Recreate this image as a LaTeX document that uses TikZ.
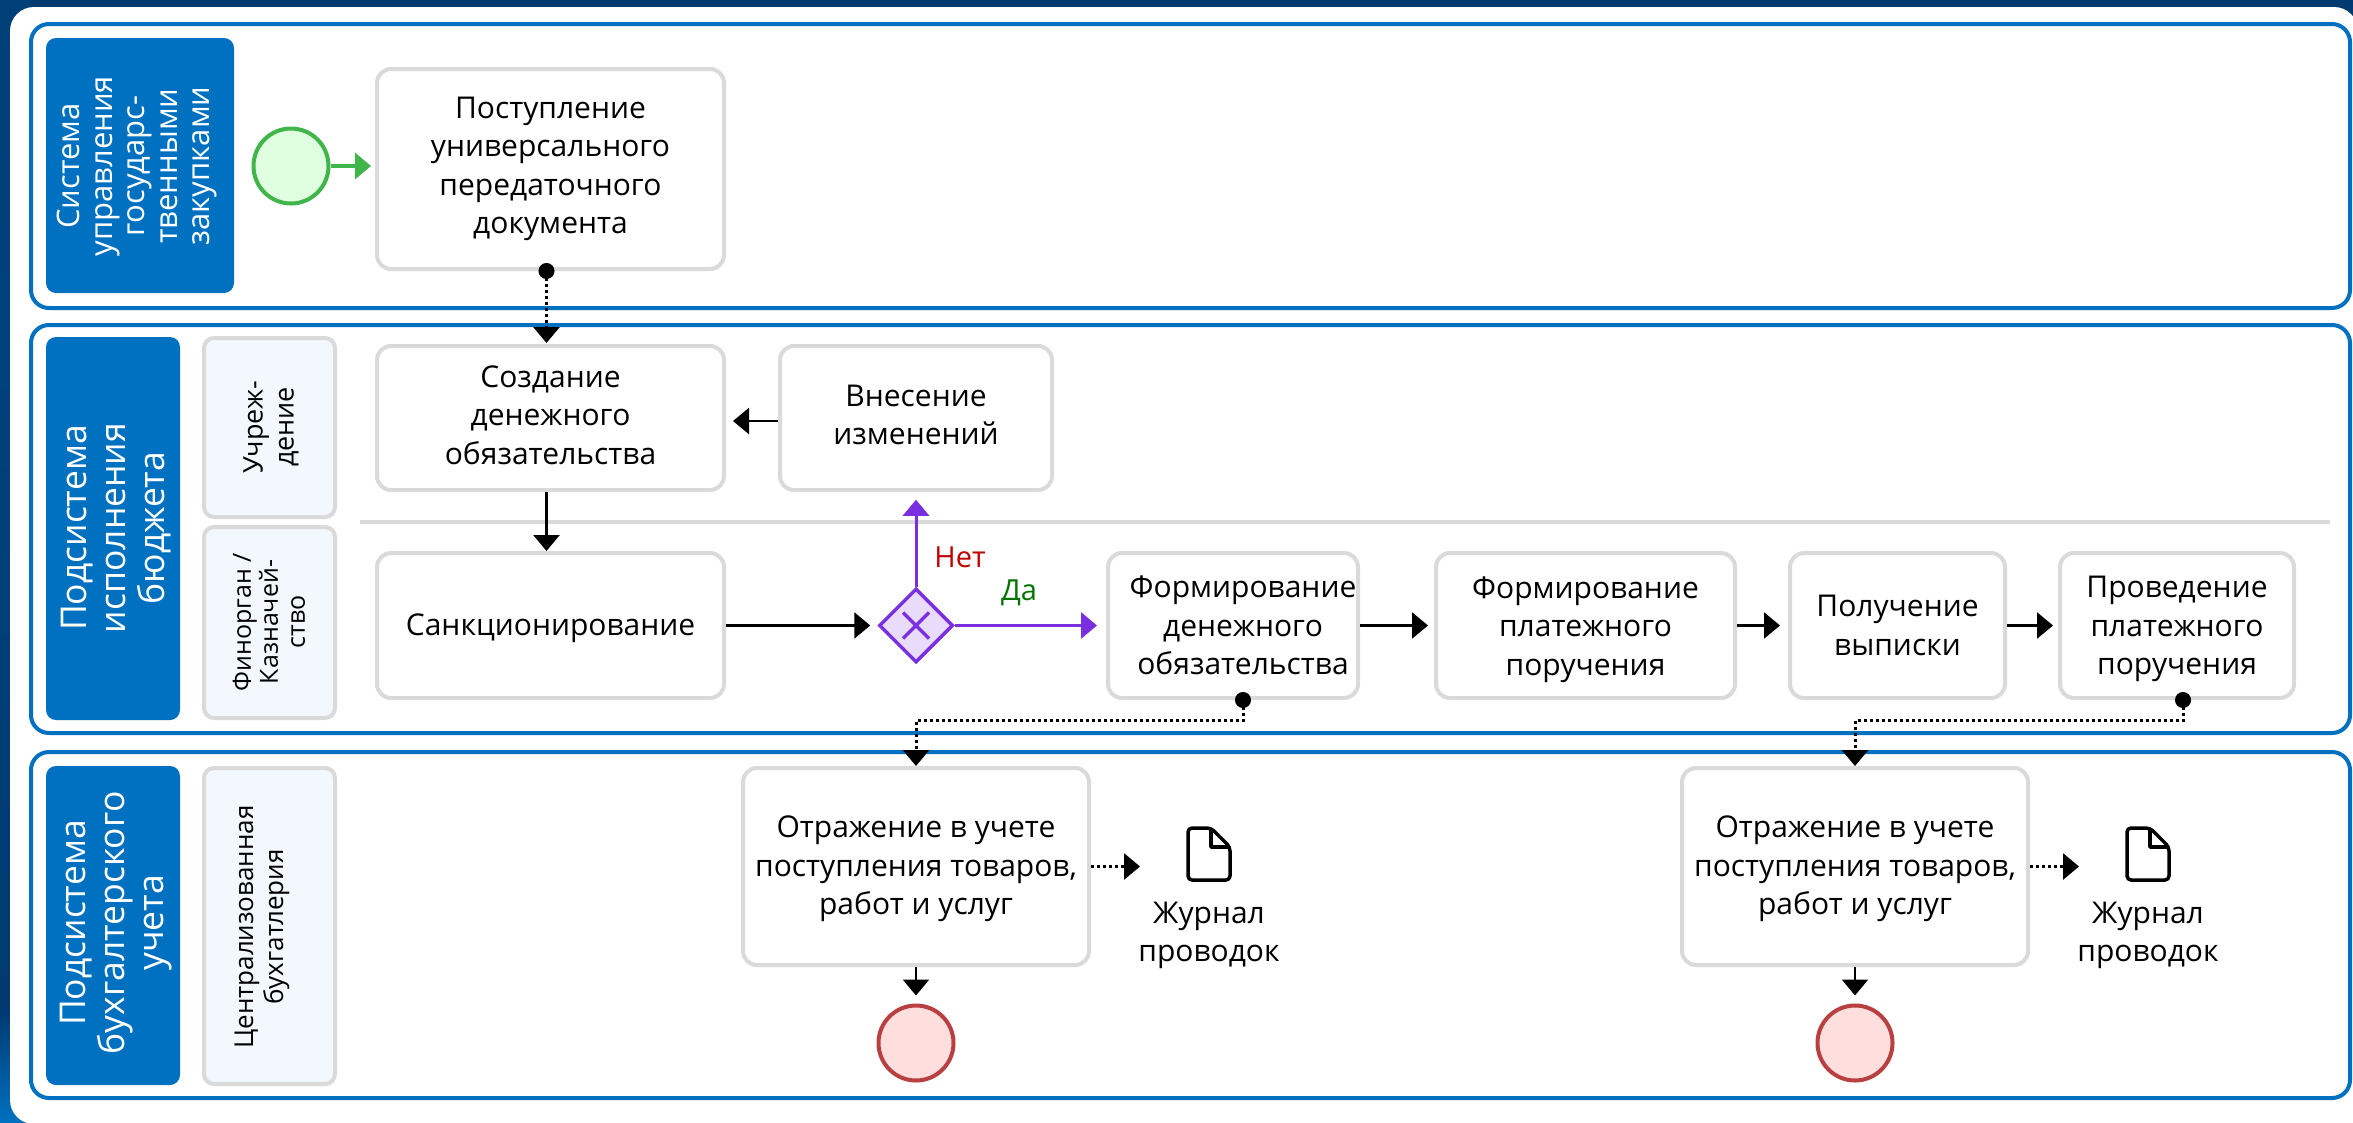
\documentclass[tikz,border=0pt]{standalone}
\usepackage{fontspec}
\setmainfont{Open Sans}
\usetikzlibrary{arrows.meta,shapes.geometric,calc}
\definecolor{lanecol}{HTML}{0070C0}
\definecolor{graycol}{HTML}{DADADA}
\definecolor{violetcol}{HTML}{7A2FE0}
\definecolor{navycol}{HTML}{003A70}
\definecolor{rolecol}{HTML}{F2F8FE}
\definecolor{startcol}{HTML}{3FB54A}
\definecolor{endcol}{HTML}{B94040}
\pgfdeclareverticalshading{stripshade}{100bp}{
  color(0bp)=(navycol); color(10bp)=(navycol!70!lanecol); color(20bp)=(lanecol!75!navycol); color(23bp)=(navycol!60!lanecol);
  color(25bp)=(lanecol); color(30bp)=(navycol); color(60bp)=(navycol!85!lanecol); color(100bp)=(navycol)}
\newcommand{\pushdown}[1]{\rule{0pt}{#1}}
\newcommand{\pushup}[1]{\rule[-#1]{0pt}{#1}}
\tikzset{
  lane/.style={draw=lanecol, line width=4pt, rounded corners=18pt, fill=white},
  title/.style={fill=lanecol, rounded corners=10pt, text=white, inner sep=0pt},
  titletext/.style={text=white, rotate=90, align=center, inner sep=0pt},
  role/.style={draw=graycol, line width=4pt, fill=rolecol, rounded corners=10pt},
  roletext/.style={rotate=90, align=center, inner sep=0pt, font=\fontsize{25}{27}\selectfont},
  task/.style={draw=graycol, line width=4pt, fill=white, rounded corners=14pt, inner sep=0pt, align=center, font=\fontsize{30}{38.5}\selectfont},
  flow/.style={line width=2.5pt, -{Triangle[length=16pt,width=26pt]}},
  note/.style={line width=3pt, dash pattern=on 3pt off 3pt, {Circle[length=16pt,width=16pt]}-{Triangle[length=16pt,width=26pt]}},
  notearrow/.style={line width=3pt, dash pattern=on 3pt off 3pt, -{Triangle[length=16pt,width=26pt]}},
  docpage/.pic={\draw[line width=3.5pt, rounded corners=4pt, line join=round] (-21,-26) -- (2,-26) -- (21,-7) -- (21,26) -- (-21,26) -- cycle;
    \draw[line width=3.5pt, line join=round] (2,-26) -- (2,-7) -- (21,-7);}
}
\begin{document}
\begin{tikzpicture}[x=1pt,y=-1pt]
\useasboundingbox (0,0) rectangle (2353,1122);
\shade[shading=stripshade] (0,0) rectangle (40,1122);
\fill[navycol] (30,0) rectangle (2353,60);
\fill[white, rounded corners=24pt] (10,7) -- (2358,7) -- (2358,1124) -- (10,1124) -- cycle;

% lanes
\draw[lane] (31,24) rectangle (2350,308);
\draw[lane] (31,325) rectangle (2350,733);
\draw[lane] (31,752) rectangle (2350,1098);

\fill[title] (46,38) rectangle (234,293);
\fill[title] (46,337) rectangle (180,720);
\fill[title] (46,766) rectangle (180,1085);
\node[titletext, font=\fontsize{31}{32.5}\selectfont] (sys) at (137,166) {Система\\управления\\государс-\\твенными\\закупками};
\node[titletext, font=\fontsize{35.5}{39}\selectfont] (pod) at (116,528) {Подсистема\\исполнения\\бюджета};
\node[titletext, font=\fontsize{35.5}{39}\selectfont] (buh) at (116,923) {Подсистема\\бухгалтерского\\учета};

\draw[role] (204,338) rectangle (335,517);
\draw[role] (204,527) rectangle (335,718);
\draw[role] (204,768) rectangle (335,1084);
\node[roletext, font=\fontsize{27}{31}\selectfont] (uch) at (271,427) {Учреж-\\дение};
\node[roletext] (fin) at (269,622) {Финорган /\\Казначей-\\ство};
\node[roletext, font=\fontsize{26}{30}\selectfont] (cen) at (262,927) {Централизованная\\бухгатлерия};

\draw[graycol, line width=3.5pt] (360,522) -- (2330,522);

% tasks
\node[task, minimum width=347pt, minimum height=200pt] (post) at (550.5,169) {Поступление\\универсального\\передаточного\\документа};
\node[task, minimum width=347pt, minimum height=144pt] (soz) at (550.5,418) {Создание\\денежного\\обязательства\pushup{6pt}};
\node[task, minimum width=272pt, minimum height=144pt] (vnes) at (916,418) {Внесение\\изменений\pushup{6pt}};
\node[task, minimum width=347pt, minimum height=145pt] (sank) at (550.5,625.5) {\pushdown{28pt}Санкционирование};
\node[task, minimum width=250pt, minimum height=145pt] (fdo) at (1233,625.5) {\hspace*{20pt}Формирование\\\hspace*{20pt}денежного\\\hspace*{20pt}обязательства};
\node[task, minimum width=299pt, minimum height=145pt] (fpp) at (1585.5,625.5) {\pushdown{30pt}Формирование\\платежного\\поручения};
\node[task, minimum width=215pt, minimum height=145pt] (vyp) at (1897.5,625.5) {Получение\\выписки};
\node[task, minimum width=234pt, minimum height=145pt] (prov) at (2177,625.5) {\pushdown{29pt}Проведение\\платежного\\поручения};
\node[task, minimum width=346pt, minimum height=197pt] (otr1) at (916,866.5) {\pushdown{27pt}Отражение в учете\\поступления товаров,\\работ и услуг};
\node[task, minimum width=346pt, minimum height=197pt] (otr2) at (1855,866.5) {\pushdown{27pt}Отражение в учете\\поступления товаров,\\работ и услуг};

% events and gateway
\node[circle, draw=startcol, line width=4pt, fill=green!12, minimum size=75pt, inner sep=0pt] (start) at (291,166) {};
\node[diamond, draw=violetcol, line width=3.5pt, fill=violetcol!17, minimum width=74pt, minimum height=74pt, inner sep=0pt] (gate) at (916,625.5) {};
\draw[violetcol, line width=3.5pt] (903,612.5) -- (929,638.5) (903,638.5) -- (929,612.5);
\node[circle, draw=endcol, line width=4pt, fill=red!13, minimum size=75pt, inner sep=0pt] (end1) at (916,1043) {};
\node[circle, draw=endcol, line width=4pt, fill=red!13, minimum size=75pt, inner sep=0pt] (end2) at (1855,1043) {};

\pic at (1209,854) {docpage};
\pic at (2148,854) {docpage};
\node[align=center, inner sep=0pt, font=\fontsize{30}{38}\selectfont] (jur1) at (1209,935) {Журнал\\проводок};
\node[align=center, inner sep=0pt, font=\fontsize{30}{38}\selectfont] (jur2) at (2148,935) {Журнал\\проводок};
\coordinate (doc1) at (1140,866.5);
\coordinate (doc2) at (2079,866.5);

% connectors
\draw[flow, startcol, line width=3.5pt, shorten >=4pt] (start) -- (start -| post.west);
\draw[note] ([xshift=-4pt,yshift=8pt]post.south) -- ([xshift=-4pt,yshift=1pt]soz.north);
\draw[flow] ([xshift=-4pt]soz.south) -- ([xshift=-4pt]sank.north);
\draw[flow, shorten >=7pt] ([yshift=-3pt]vnes.west) -- ([yshift=-3pt]soz.east);
\draw[flow, shorten >=7pt] (sank) -- (gate);
\draw[flow, violetcol, line width=3pt, shorten >=9pt] (gate.east) -- (fdo);
\draw[flow, violetcol, line width=3pt] (gate.north) -- ++(0,-87);
\draw[flow, shorten >=6pt] (fdo) -- (fpp);
\draw[flow, shorten >=8pt] (fpp) -- (vyp);
\draw[flow, shorten >=5pt] (vyp) -- (prov);
\node[text=red!75!black, inner sep=0pt, font=\fontsize{29}{30}\selectfont] (net) at (960,557) {Нет};
\node[text=green!45!black, inner sep=0pt, font=\fontsize{29}{30}\selectfont] (da) at (1019,593) {Да};
\draw[note] ([xshift=10pt,yshift=8pt]fdo.south) -- ++(0,28) -| (otr1.north);
\draw[note] ([xshift=6pt,yshift=8pt]prov.south) -- ++(0,28) -| (otr2.north);
\draw[notearrow] (otr1) -- (doc1);
\draw[notearrow] (otr2) -- (doc2);
\draw[flow, shorten >=8pt] (otr1) -- (end1);
\draw[flow, shorten >=8pt] (otr2) -- (end2);
\end{tikzpicture}
\end{document}
